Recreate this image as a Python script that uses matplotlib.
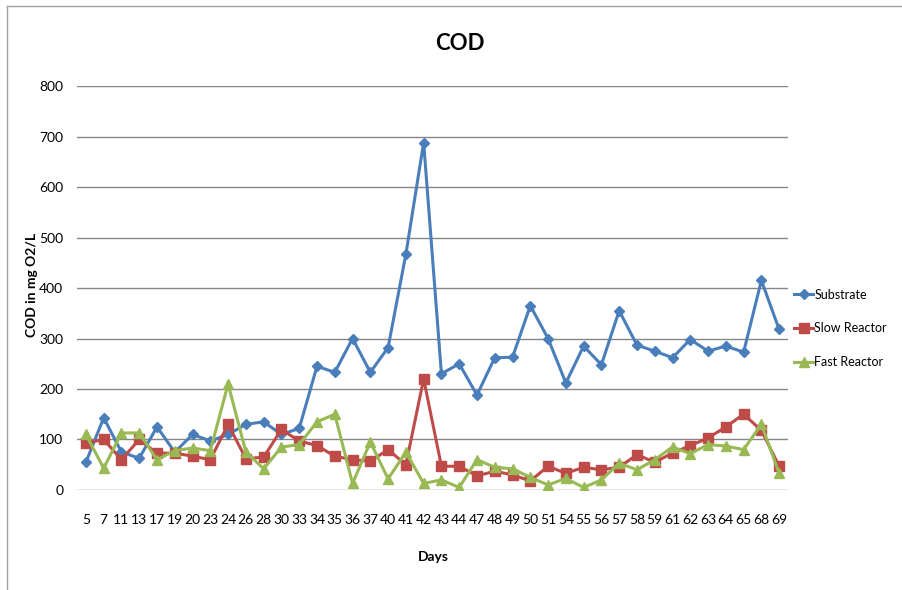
import numpy as np
import matplotlib.pyplot as plt
from matplotlib.lines import Line2D

days = ["5", "7", "11", "13", "17", "19", "20", "23", "24", "26", "28", "30", "33", "34",
        "35", "36", "37", "40", "41", "42", "43", "44", "47", "48", "49", "50", "51", "54",
        "55", "56", "57", "58", "59", "61", "62", "63", "64", "65", "68", "69"]
substrate = [55, 143, 75, 63, 125, 75, 110, 97, 110, 130, 135, 110, 122, 245,
             233, 300, 233, 282, 467, 688, 230, 250, 188, 262, 263, 365, 300, 212,
             285, 248, 355, 287, 275, 262, 298, 275, 285, 273, 415, 318]
slow = [93, 100, 60, 100, 73, 73, 67, 60, 130, 62, 65, 120, 97, 88,
        67, 60, 57, 80, 50, 220, 47, 47, 28, 37, 30, 18, 47, 33,
        45, 40, 45, 70, 55, 73, 88, 103, 125, 150, 118, 47]
fast = [110, 43, 113, 113, 60, 78, 83, 78, 210, 75, 42, 85, 90, 135,
        150, 13, 95, 22, 75, 13, 20, 5, 60, 45, 42, 25, 10, 23,
        5, 20, 53, 40, 60, 85, 72, 90, 87, 80, 130, 33]

plt.rcParams['font.family'] = ['Lato', 'DejaVu Sans']

fig = plt.figure(figsize=(9.03, 5.9), dpi=100)
ax = fig.add_axes([0.0853, 0.1695, 0.7874, 0.6847])

x = np.arange(len(days))
ax.plot(x, substrate, color="#4A7EBB", lw=2.2, marker="D", ms=5.5, label="Substrate")
ax.plot(x, slow, color="#BE4B48", lw=2.2, marker="s", ms=7, label="Slow Reactor")
ax.plot(x, fast, color="#98B954", lw=2.2, marker="^", ms=7, label="Fast Reactor")

ax.set_xlim(-0.5, len(days) - 0.5)
ax.set_ylim(0, 800)
ax.set_yticks(range(0, 801, 100))
ax.set_xticks(x)
ax.set_xticklabels(days)
ax.tick_params(axis="both", length=0, labelsize=10)
ax.tick_params(axis="x", pad=17)
ax.tick_params(axis="y", pad=10)
ax.grid(axis="y", color="#868686", lw=1)
ax.set_axisbelow(True)
for s in ax.spines.values():
    s.set_visible(False)

fig.text(460 / 903, 1 - 43 / 590, "COD", fontsize=16, fontweight="bold",
         ha="center", va="center")
fig.text(433 / 903, 1 - 557 / 590, "Days", fontsize=10, fontweight="bold",
         ha="center", va="center")
fig.text(32 / 903, 1 - 285 / 590, "COD in mg O2/L", rotation=90, fontsize=10,
         fontweight="bold", ha="center", va="center")

ax.legend(loc="center left", bbox_to_anchor=(1.0, 0.40), frameon=False,
          fontsize=9, handlelength=1.5, handletextpad=0.1, labelspacing=1.75,
          borderaxespad=0.3, borderpad=0.2)

fig.lines.append(Line2D([7 / 903, 7 / 903], [0, 1 - 6 / 590], transform=fig.transFigure,
                        color="#a0a0a0", lw=1))
fig.lines.append(Line2D([7 / 903, 1], [1 - 6 / 590, 1 - 6 / 590], transform=fig.transFigure,
                        color="#a0a0a0", lw=1))

fig.savefig("out.png", dpi=100)
